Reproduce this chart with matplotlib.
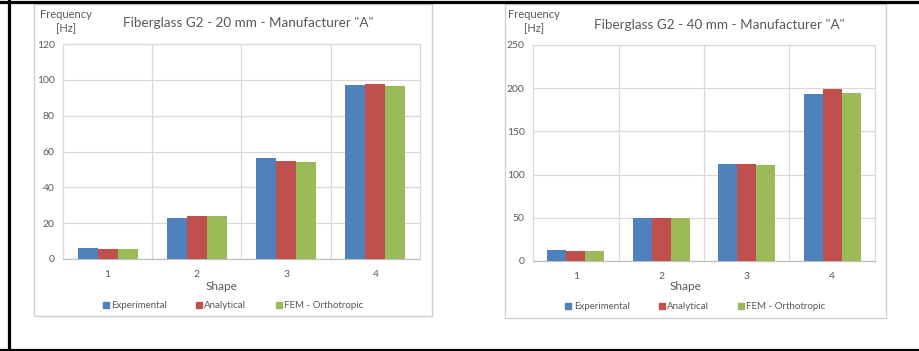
import matplotlib
matplotlib.use("Agg")
import matplotlib.pyplot as plt
import numpy as np
from matplotlib.patches import Rectangle
from matplotlib.lines import Line2D

plt.rcParams['font.family'] = ['Lato', 'DejaVu Sans']

shapes = ["1", "2", "3", "4"]
series = ["Experimental", "Analytical", "FEM - Orthotropic"]
colors = ["#4F81BD", "#C0504D", "#9BBB59"]

vals_20 = {
    "Experimental": [6.0, 22.8, 56.1, 96.9],
    "Analytical": [5.7, 24.1, 54.7, 97.8],
    "FEM - Orthotropic": [5.7, 24.1, 54.4, 96.5],
}
vals_40 = {
    "Experimental": [12.6, 49.8, 112.1, 192.8],
    "Analytical": [12.0, 49.8, 112.0, 199.0],
    "FEM - Orthotropic": [12.0, 49.8, 110.9, 195.0],
}
yticks_20 = [0, 20, 40, 60, 80, 100, 120]
yticks_40 = [0, 50, 100, 150, 200, 250]
title_20 = 'Fiberglass G2 - 20 mm - Manufacturer "A"'
title_40 = 'Fiberglass G2 - 40 mm - Manufacturer "A"'

W, H = 920, 351
fig = plt.figure(figsize=(W / 100, H / 100), dpi=100)

def fx(px):
    return px / W

def fy(py):
    return 1 - py / H

grid_c = "#D9D9D9"
txt_c = "#595959"

# black outer frame lines
fig.add_artist(Line2D([fx(8.5), fx(8.5)], [0, 1], color="black", lw=2.3, transform=fig.transFigure))
fig.add_artist(Line2D([0, 1], [fy(1.5), fy(1.5)], color="black", lw=2.3, transform=fig.transFigure))
fig.add_artist(Line2D([0, 1], [fy(349.5), fy(349.5)], color="black", lw=2.3, transform=fig.transFigure))

def chart(frame, plot, vals, yticks, title, title_xy, freq_x, shape_x, legend_y):
    fl, ft, fr, fb = frame
    fig.add_artist(Rectangle((fx(fl), fy(fb)), fx(fr) - fx(fl), fy(ft) - fy(fb),
                             transform=fig.transFigure, facecolor="white",
                             edgecolor="#D0D0D0", lw=1.0, zorder=0))
    pl, pt, pr, pb = plot
    ax = fig.add_axes([fx(pl), fy(pb), fx(pr) - fx(pl), fy(pt) - fy(pb)])
    x = np.arange(1, len(shapes) + 1)
    w = 0.224
    for i, s in enumerate(series):
        ax.bar(x + (i - 1) * w, vals[s], width=w, color=colors[i], zorder=3, label=s)
    ax.set_xlim(0.5, 4.5)
    ax.set_ylim(yticks[0], yticks[-1])
    ax.set_yticks(yticks)
    ax.set_xticks(x)
    ax.set_xticklabels(shapes)
    for b in np.arange(1.5, 4.5, 1):
        ax.axvline(b, color=grid_c, lw=0.9, zorder=1)
    ax.grid(axis="y", color=grid_c, lw=0.9, zorder=1)
    for sp in ax.spines.values():
        sp.set_color(grid_c)
        sp.set_linewidth(0.9)
    ax.spines["bottom"].set_color("#BFBFBF")
    ax.tick_params(length=0, labelsize=7.5, labelcolor=txt_c, pad=6)
    ax.tick_params(axis="x", pad=8)
    fig.text(fx(title_xy[0]), fy(title_xy[1]), title, ha="center", va="center",
             fontsize=9.7, color=txt_c)
    fig.text(fx(freq_x), fy(21.5), "Frequency\n[Hz]", ha="center", va="center",
             fontsize=8, color=txt_c, linespacing=1.35)
    fig.text(fx(shape_x), fy(287), "Shape", ha="center", va="center",
             fontsize=8.5, color=txt_c)
    handles = [Line2D([], [], marker="s", ls="", color=c, markersize=5) for c in colors]
    fig.legend(handles, series, loc="center", bbox_to_anchor=(fx((fl + fr) / 2), fy(legend_y)),
               ncol=3, frameon=False, fontsize=7, labelcolor=txt_c, handlelength=0.6,
               handletextpad=0.25, columnspacing=3.0, borderaxespad=0)
    return ax

chart((34, 4, 432, 316), (63, 44, 420, 259), vals_20, yticks_20, title_20,
      (248, 23), 66, 222, 305.5)
chart((505, 4, 886, 318), (533, 45, 875, 261), vals_40, yticks_40, title_40,
      (719, 25), 534, 686, 306.5)

fig.savefig("out.png", dpi=100)
